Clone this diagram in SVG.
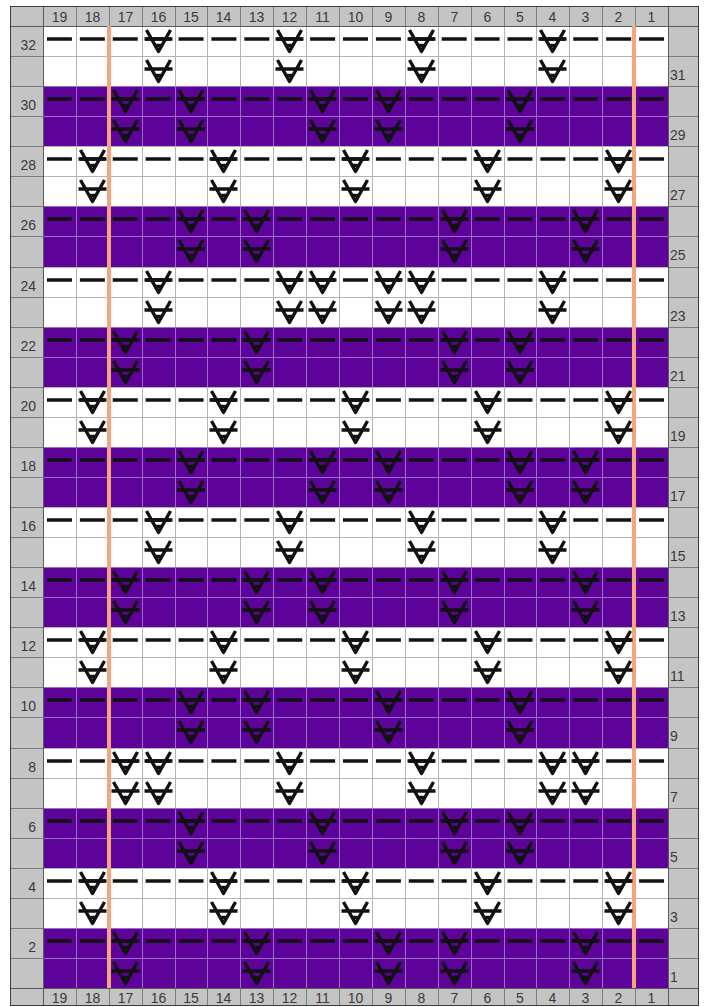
<svg xmlns="http://www.w3.org/2000/svg" width="710" height="1007" viewBox="0 0 710 1007">
<style>
.lbl{font-family:"Liberation Sans",Arial,sans-serif;font-size:14px;fill:#3a3a3a}
.hc{text-anchor:middle}
.le{text-anchor:end}
.dash{fill:none;stroke:#111;stroke-width:3.4;stroke-dasharray:25 7.8947}
.hl{fill:none;stroke:#7c7c7c;stroke-width:1}
</style>
<defs>
<path id="grid" fill="none" stroke-width="1" d="M76.5,26V988M109.5,26V988M142.5,26V988M175.5,26V988M207.5,26V988M240.5,26V988M273.5,26V988M306.5,26V988M339.5,26V988M372.5,26V988M405.5,26V988M438.5,26V988M471.5,26V988M504.5,26V988M536.5,26V988M569.5,26V988M602.5,26V988M635.5,26V988M43,56.5H668M43,86.5H668M43,116.5H668M43,146.5H668M43,176.5H668M43,206.5H668M43,236.5H668M43,267.5H668M43,297.5H668M43,327.5H668M43,357.5H668M43,387.5H668M43,417.5H668M43,447.5H668M43,477.5H668M43,507.5H668M43,537.5H668M43,567.5H668M43,597.5H668M43,627.5H668M43,657.5H668M43,687.5H668M43,717.5H668M43,748.5H668M43,778.5H668M43,808.5H668M43,838.5H668M43,868.5H668M43,898.5H668M43,928.5H668M43,958.5H668"/>
<path id="bands" d="M43,86h625v60h-625zM43,206h625v61h-625zM43,327h625v60h-625zM43,447h625v60h-625zM43,567h625v60h-625zM43,687h625v61h-625zM43,808h625v60h-625zM43,928h625v60h-625z"/>
<clipPath id="bclip"><use href="#bands"/></clipPath>
<path id="sl" fill="none" stroke="#111" stroke-width="3.4" stroke-linejoin="round" d="M-14,13H14M-12,4L0,25.5L12,4M-3.5,19.5H3.5"/>
</defs>

<rect x="0" y="0" width="710" height="1007" fill="#fff"/>
<!-- header & label area -->
<rect x="10" y="6" width="689" height="1000" fill="#c4c4c4"/>
<!-- chart background -->
<rect x="43" y="26" width="625" height="962" fill="#fff"/>
<use href="#bands" fill="#5e0399"/>
<use href="#grid" stroke="#b4b4b4"/>
<use href="#grid" stroke="#9b6cc8" clip-path="url(#bclip)"/>

<!-- header / label lines -->
<path class="hl" d="M76.5,6V26M109.5,6V26M142.5,6V26M175.5,6V26M207.5,6V26M240.5,6V26M273.5,6V26M306.5,6V26M339.5,6V26M372.5,6V26M405.5,6V26M438.5,6V26M471.5,6V26M504.5,6V26M536.5,6V26M569.5,6V26M602.5,6V26M635.5,6V26M76.5,988V1006M109.5,988V1006M142.5,988V1006M175.5,988V1006M207.5,988V1006M240.5,988V1006M273.5,988V1006M306.5,988V1006M339.5,988V1006M372.5,988V1006M405.5,988V1006M438.5,988V1006M471.5,988V1006M504.5,988V1006M536.5,988V1006M569.5,988V1006M602.5,988V1006M635.5,988V1006"/>
<path class="hl" d="M10,56.5H43M10,86.5H43M10,116.5H43M10,146.5H43M10,176.5H43M10,206.5H43M10,236.5H43M10,267.5H43M10,297.5H43M10,327.5H43M10,357.5H43M10,387.5H43M10,417.5H43M10,447.5H43M10,477.5H43M10,507.5H43M10,537.5H43M10,567.5H43M10,597.5H43M10,627.5H43M10,657.5H43M10,687.5H43M10,717.5H43M10,748.5H43M10,778.5H43M10,808.5H43M10,838.5H43M10,868.5H43M10,898.5H43M10,928.5H43M10,958.5H43M668,56.5H699M668,86.5H699M668,116.5H699M668,146.5H699M668,176.5H699M668,206.5H699M668,236.5H699M668,267.5H699M668,297.5H699M668,327.5H699M668,357.5H699M668,387.5H699M668,417.5H699M668,447.5H699M668,477.5H699M668,507.5H699M668,537.5H699M668,567.5H699M668,597.5H699M668,627.5H699M668,657.5H699M668,687.5H699M668,717.5H699M668,748.5H699M668,778.5H699M668,808.5H699M668,838.5H699M668,868.5H699M668,898.5H699M668,928.5H699M668,958.5H699"/>
<path fill="none" stroke="#5a5a5a" d="M10,26.5H699M10,988.5H699M43.5,6V1006M668.5,6V1006"/>
<rect x="10.5" y="6.5" width="688" height="999" fill="none" stroke="#3c3c3c"/>

<!-- orange guide lines -->
<g id="guides" fill="#f6a47f">
<rect x="107" y="26" width="4" height="962"/>
<rect x="632" y="26" width="4" height="962"/>
</g>

<!-- stitch rows -->
<g id="rows-32-31" transform="translate(0,26)">
<path class="dash" d="M46.95,13H668"/>
<use href="#sl" x="158.5"/><use href="#sl" x="289.5"/><use href="#sl" x="421.5"/><use href="#sl" x="552.5"/>
<use href="#sl" x="158.5" y="30"/><use href="#sl" x="289.5" y="30"/><use href="#sl" x="421.5" y="30"/><use href="#sl" x="552.5" y="30"/>
</g>
<g id="rows-30-29" transform="translate(0,86)">
<path class="dash" d="M46.95,13H668"/>
<use href="#sl" x="125.5"/><use href="#sl" x="191"/><use href="#sl" x="322.5"/><use href="#sl" x="388.5"/><use href="#sl" x="520"/>
<use href="#sl" x="125.5" y="30"/><use href="#sl" x="191" y="30"/><use href="#sl" x="322.5" y="30"/><use href="#sl" x="388.5" y="30"/><use href="#sl" x="520" y="30"/>
</g>
<g id="rows-28-27" transform="translate(0,146)">
<path class="dash" d="M46.95,13H668"/>
<use href="#sl" x="92.5"/><use href="#sl" x="223.5"/><use href="#sl" x="355.5"/><use href="#sl" x="487.5"/><use href="#sl" x="618.5"/>
<use href="#sl" x="92.5" y="30"/><use href="#sl" x="223.5" y="30"/><use href="#sl" x="355.5" y="30"/><use href="#sl" x="487.5" y="30"/><use href="#sl" x="618.5" y="30"/>
</g>
<g id="rows-26-25" transform="translate(0,206)">
<path class="dash" d="M46.95,13H668"/>
<use href="#sl" x="191"/><use href="#sl" x="256.5"/><use href="#sl" x="454.5"/><use href="#sl" x="585.5"/>
<use href="#sl" x="191" y="30"/><use href="#sl" x="256.5" y="30"/><use href="#sl" x="454.5" y="30"/><use href="#sl" x="585.5" y="30"/>
</g>
<g id="rows-24-23" transform="translate(0,267)">
<path class="dash" d="M46.95,13H668"/>
<use href="#sl" x="158.5"/><use href="#sl" x="289.5"/><use href="#sl" x="322.5"/><use href="#sl" x="388.5"/><use href="#sl" x="421.5"/><use href="#sl" x="552.5"/>
<use href="#sl" x="158.5" y="30"/><use href="#sl" x="289.5" y="30"/><use href="#sl" x="322.5" y="30"/><use href="#sl" x="388.5" y="30"/><use href="#sl" x="421.5" y="30"/><use href="#sl" x="552.5" y="30"/>
</g>
<g id="rows-22-21" transform="translate(0,327)">
<path class="dash" d="M46.95,13H668"/>
<use href="#sl" x="125.5"/><use href="#sl" x="256.5"/><use href="#sl" x="454.5"/><use href="#sl" x="520"/>
<use href="#sl" x="125.5" y="30"/><use href="#sl" x="256.5" y="30"/><use href="#sl" x="454.5" y="30"/><use href="#sl" x="520" y="30"/>
</g>
<g id="rows-20-19" transform="translate(0,387)">
<path class="dash" d="M46.95,13H668"/>
<use href="#sl" x="92.5"/><use href="#sl" x="223.5"/><use href="#sl" x="355.5"/><use href="#sl" x="487.5"/><use href="#sl" x="618.5"/>
<use href="#sl" x="92.5" y="30"/><use href="#sl" x="223.5" y="30"/><use href="#sl" x="355.5" y="30"/><use href="#sl" x="487.5" y="30"/><use href="#sl" x="618.5" y="30"/>
</g>
<g id="rows-18-17" transform="translate(0,447)">
<path class="dash" d="M46.95,13H668"/>
<use href="#sl" x="191"/><use href="#sl" x="322.5"/><use href="#sl" x="388.5"/><use href="#sl" x="520"/><use href="#sl" x="585.5"/>
<use href="#sl" x="191" y="30"/><use href="#sl" x="322.5" y="30"/><use href="#sl" x="388.5" y="30"/><use href="#sl" x="520" y="30"/><use href="#sl" x="585.5" y="30"/>
</g>
<g id="rows-16-15" transform="translate(0,507)">
<path class="dash" d="M46.95,13H668"/>
<use href="#sl" x="158.5"/><use href="#sl" x="289.5"/><use href="#sl" x="421.5"/><use href="#sl" x="552.5"/>
<use href="#sl" x="158.5" y="30"/><use href="#sl" x="289.5" y="30"/><use href="#sl" x="421.5" y="30"/><use href="#sl" x="552.5" y="30"/>
</g>
<g id="rows-14-13" transform="translate(0,567)">
<path class="dash" d="M46.95,13H668"/>
<use href="#sl" x="125.5"/><use href="#sl" x="256.5"/><use href="#sl" x="322.5"/><use href="#sl" x="454.5"/><use href="#sl" x="585.5"/>
<use href="#sl" x="125.5" y="30"/><use href="#sl" x="256.5" y="30"/><use href="#sl" x="322.5" y="30"/><use href="#sl" x="454.5" y="30"/><use href="#sl" x="585.5" y="30"/>
</g>
<g id="rows-12-11" transform="translate(0,627)">
<path class="dash" d="M46.95,13H668"/>
<use href="#sl" x="92.5"/><use href="#sl" x="223.5"/><use href="#sl" x="355.5"/><use href="#sl" x="487.5"/><use href="#sl" x="618.5"/>
<use href="#sl" x="92.5" y="30"/><use href="#sl" x="223.5" y="30"/><use href="#sl" x="355.5" y="30"/><use href="#sl" x="487.5" y="30"/><use href="#sl" x="618.5" y="30"/>
</g>
<g id="rows-10-9" transform="translate(0,687)">
<path class="dash" d="M46.95,13H668"/>
<use href="#sl" x="191"/><use href="#sl" x="256.5"/><use href="#sl" x="388.5"/><use href="#sl" x="520"/>
<use href="#sl" x="191" y="30"/><use href="#sl" x="256.5" y="30"/><use href="#sl" x="388.5" y="30"/><use href="#sl" x="520" y="30"/>
</g>
<g id="rows-8-7" transform="translate(0,748)">
<path class="dash" d="M46.95,13H668"/>
<use href="#sl" x="125.5"/><use href="#sl" x="158.5"/><use href="#sl" x="289.5"/><use href="#sl" x="421.5"/><use href="#sl" x="552.5"/><use href="#sl" x="585.5"/>
<use href="#sl" x="125.5" y="30"/><use href="#sl" x="158.5" y="30"/><use href="#sl" x="289.5" y="30"/><use href="#sl" x="421.5" y="30"/><use href="#sl" x="552.5" y="30"/><use href="#sl" x="585.5" y="30"/>
</g>
<g id="rows-6-5" transform="translate(0,808)">
<path class="dash" d="M46.95,13H668"/>
<use href="#sl" x="191"/><use href="#sl" x="322.5"/><use href="#sl" x="454.5"/><use href="#sl" x="520"/>
<use href="#sl" x="191" y="30"/><use href="#sl" x="322.5" y="30"/><use href="#sl" x="454.5" y="30"/><use href="#sl" x="520" y="30"/>
</g>
<g id="rows-4-3" transform="translate(0,868)">
<path class="dash" d="M46.95,13H668"/>
<use href="#sl" x="92.5"/><use href="#sl" x="223.5"/><use href="#sl" x="355.5"/><use href="#sl" x="487.5"/><use href="#sl" x="618.5"/>
<use href="#sl" x="92.5" y="30"/><use href="#sl" x="223.5" y="30"/><use href="#sl" x="355.5" y="30"/><use href="#sl" x="487.5" y="30"/><use href="#sl" x="618.5" y="30"/>
</g>
<g id="rows-2-1" transform="translate(0,928)">
<path class="dash" d="M46.95,13H668"/>
<use href="#sl" x="125.5"/><use href="#sl" x="256.5"/><use href="#sl" x="388.5"/><use href="#sl" x="454.5"/><use href="#sl" x="585.5"/>
<use href="#sl" x="125.5" y="30"/><use href="#sl" x="256.5" y="30"/><use href="#sl" x="388.5" y="30"/><use href="#sl" x="454.5" y="30"/><use href="#sl" x="585.5" y="30"/>
</g>

<!-- column numbers -->
<g id="col-labels-top" class="lbl hc">
<text x="59.5" y="21.5">19</text><text x="92.5" y="21.5">18</text><text x="125.5" y="21.5">17</text><text x="158.5" y="21.5">16</text><text x="191" y="21.5">15</text><text x="223.5" y="21.5">14</text><text x="256.5" y="21.5">13</text><text x="289.5" y="21.5">12</text><text x="322.5" y="21.5">11</text><text x="355.5" y="21.5">10</text><text x="388.5" y="21.5">9</text><text x="421.5" y="21.5">8</text><text x="454.5" y="21.5">7</text><text x="487.5" y="21.5">6</text><text x="520" y="21.5">5</text><text x="552.5" y="21.5">4</text><text x="585.5" y="21.5">3</text><text x="618.5" y="21.5">2</text><text x="651.5" y="21.5">1</text>
</g>
<g id="col-labels-bottom" class="lbl hc">
<text x="59.5" y="1003">19</text><text x="92.5" y="1003">18</text><text x="125.5" y="1003">17</text><text x="158.5" y="1003">16</text><text x="191" y="1003">15</text><text x="223.5" y="1003">14</text><text x="256.5" y="1003">13</text><text x="289.5" y="1003">12</text><text x="322.5" y="1003">11</text><text x="355.5" y="1003">10</text><text x="388.5" y="1003">9</text><text x="421.5" y="1003">8</text><text x="454.5" y="1003">7</text><text x="487.5" y="1003">6</text><text x="520" y="1003">5</text><text x="552.5" y="1003">4</text><text x="585.5" y="1003">3</text><text x="618.5" y="1003">2</text><text x="651.5" y="1003">1</text>
</g>
<!-- row numbers -->
<g id="row-labels-left" class="lbl le">
<text x="36" y="50">32</text><text x="36" y="110">30</text><text x="36" y="170">28</text><text x="36" y="230">26</text><text x="36" y="291">24</text><text x="36" y="351">22</text><text x="36" y="411">20</text><text x="36" y="471">18</text><text x="36" y="531">16</text><text x="36" y="591">14</text><text x="36" y="651">12</text><text x="36" y="711">10</text><text x="36" y="772">8</text><text x="36" y="832">6</text><text x="36" y="892">4</text><text x="36" y="952">2</text>
</g>
<g id="row-labels-right" class="lbl">
<text x="670" y="80">31</text><text x="670" y="140">29</text><text x="670" y="200">27</text><text x="670" y="260">25</text><text x="670" y="321">23</text><text x="670" y="381">21</text><text x="670" y="441">19</text><text x="670" y="501">17</text><text x="670" y="561">15</text><text x="670" y="621">13</text><text x="670" y="681">11</text><text x="670" y="741">9</text><text x="670" y="802">7</text><text x="670" y="862">5</text><text x="670" y="922">3</text><text x="670" y="982">1</text>
</g>
</svg>
